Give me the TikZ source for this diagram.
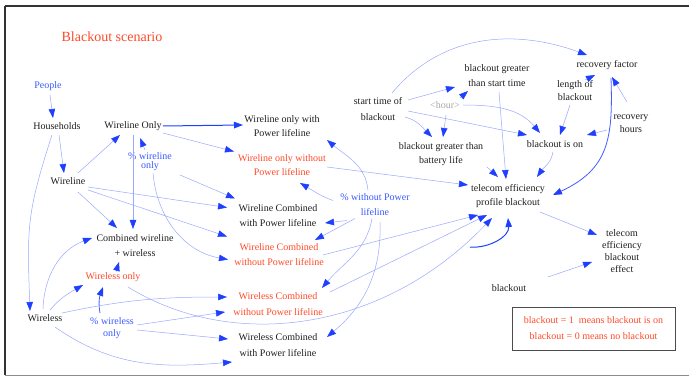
\documentclass[tikz,border=0pt]{standalone}
\usepackage{fontspec}
\setmainfont{Liberation Serif}
\usetikzlibrary{arrows.meta}
\definecolor{lnblue}{HTML}{9AA8FF}
\definecolor{tipblue}{HTML}{1F3FFF}
\definecolor{txtblue}{HTML}{3A5AFF}
\definecolor{txtred}{HTML}{FF4A2A}
\definecolor{txtgray}{HTML}{A8A8A8}
\tikzset{
  lbl/.style={align=center, inner sep=1.5pt, font=\fontsize{10}{14}\selectfont, text=black!88},
  redlbl/.style={lbl, text=txtred},
  bluelbl/.style={lbl, text=txtblue},
  lk/.style={draw=lnblue, line width=0.5pt, -{Triangle[length=9pt,width=6.5pt,color=tipblue]}},
  thk/.style={draw=tipblue, line width=1pt},
  semithk/.style={draw=tipblue!70!lnblue, line width=0.8pt},
}
\begin{document}
\begin{tikzpicture}[x=1pt,y=-1pt]
\useasboundingbox (0,0) rectangle (689,377);
\fill[white] (0,0) rectangle (689,377);
% frame
\draw[black!80, line width=1.5pt] (5,6) -- (689,6);
\draw[black!80, line width=1.5pt] (5,6) -- (5,375);
\draw[black!45, line width=1pt] (5,375) -- (689,375);

% nodes
\node[lbl, font=\fontsize{14}{16}\selectfont, text=txtred] (title) at (112,37) {Blackout scenario};
\node[bluelbl] (people) at (48,86) {People};
\node[lbl] (households) at (57,126) {Households};
\node[lbl] (wlonly) at (133,126) {Wireline Only};
\node[bluelbl, font=\fontsize{10}{9}\selectfont] (pwo) at (150,162) {\% wireline\\only};
\node[lbl] (wireline) at (68,181) {Wireline};
\node[lbl, font=\fontsize{10}{15}\selectfont] (combined) at (135,246) {Combined wireline\\+ wireless};
\node[redlbl] (wlsonly) at (113,277) {Wireless only};
\node[lbl] (wireless) at (45,318) {Wireless};
\node[bluelbl, font=\fontsize{10}{12}\selectfont] (pwlso) at (112,328) {\% wireless\\only};
\node[lbl] (wlowith) at (282,126) {Wireline only with\\Power lifeline};
\node[redlbl] (wlowithout) at (282,165.5) {Wireline only without\\Power lifeline};
\node[lbl, font=\fontsize{10}{15}\selectfont] (wcwith) at (278,215.5) {Wireline Combined\\with Power lifeline};
\node[redlbl, font=\fontsize{10}{15}\selectfont] (wcwithout) at (279,254.5) {Wireline Combined\\without Power lifeline};
\node[bluelbl, font=\fontsize{10}{15}\selectfont] (pwlp) at (375,204.5) {\% without Power\\lifeline};
\node[redlbl, font=\fontsize{10}{16}\selectfont] (wscwithout) at (278,304) {Wireless Combined\\without Power lifeline};
\node[lbl, font=\fontsize{10}{16}\selectfont] (wscwith) at (278,345) {Wireless Combined\\with Power lifeline};
\node[lbl, font=\fontsize{10}{16}\selectfont] (start) at (378,109) {start time of\\blackout};
\node[lbl, font=\fontsize{10}{15}\selectfont] (bgst) at (497,75.5) {blackout greater\\than start time};
\node[lbl, text=txtgray] (hour) at (445,105) {\textless{}hour\textgreater{}};
\node[lbl] (bgbl) at (441,154) {blackout greater than\\battery life};
\node[lbl] (rf) at (607,65) {recovery factor};
\node[lbl, font=\fontsize{10}{13}\selectfont] (lob) at (575,90.5) {length of\\blackout};
\node[lbl, font=\fontsize{10}{13}\selectfont] (rh) at (631,123.5) {recovery\\hours};
\node[lbl] (bion) at (555,144) {blackout is on};
\node[lbl] (tepb) at (508,196) {telecom efficiency\\profile blackout};
\node[lbl, font=\fontsize{10}{12}\selectfont] (tebe) at (622,251) {telecom\\efficiency\\blackout\\effect};
\node[lbl] (blackout) at (509,288) {blackout};
\node[draw=black!70, line width=1pt, inner sep=0pt, minimum width=163pt, minimum height=43pt,
      align=center, text=txtred, font=\fontsize{10}{16}\selectfont] (note) at (593.5,328.5)
      {blackout = 1\ \ means blackout is on\\blackout = 0 means no blackout};
\coordinate (loopstart) at (470,247);

% connectors
\draw[lk] ([shift={(2,9)}]people.center) -- ([shift={(-4,-8)}]households.center);
\draw[lk] ([shift={(2,9)}]households.center) -- ([shift={(-4,-8)}]wireline.center);
\draw[lk] ([shift={(-5,9)}]households.center) to[out=252,in=92,looseness=1.2] ([shift={(-15,-7)}]wireless.center);
\draw[lk] ([shift={(-2,-9)}]wireless.center) to[out=88,in=200] ([shift={(-43,-8)}]combined.center);
\draw[lk] ([shift={(10,-8)}]wireline.center) -- ([shift={(-13,9)}]wlonly.center);
\draw[lk, thk] ([shift={(30,0)}]wlonly.center) -- ([shift={(-39,-1)}]wlowith.center);
\draw[lk] ([shift={(30,7)}]wlonly.center) -- ([shift={(-48,-14)}]wlowithout.center);
\draw[lk] ([shift={(0,9)}]wlonly.center) -- ([shift={(-2,-17)}]combined.center);
\draw[lk] ([shift={(-5,-12)}]pwo.center) -- ([shift={(7,12)}]wlonly.center);
\draw[lk] ([shift={(3,11)}]pwo.center) to[out=275,in=170] ([shift={(-51,5)}]wcwithout.center);
\draw[lk] ([shift={(30,13)}]pwo.center) -- ([shift={(-43,-17)}]wcwith.center);
\draw[lk] ([shift={(20,6)}]wireline.center) -- ([shift={(-51,-8)}]wcwith.center);
\draw[lk] ([shift={(20,9)}]wireline.center) -- ([shift={(-52,-18)}]wcwithout.center);
\draw[lk] ([shift={(10,11)}]wireline.center) -- ([shift={(-18,-18)}]combined.center);
\draw[lk] ([shift={(3,-5)}]wlsonly.center) -- ([shift={(-16,16)}]combined.center);
\draw[lk] ([shift={(5,-8)}]wireless.center) to[out=50,in=210] ([shift={(-30,8)}]wlsonly.center);
\draw[lk, semithk] ([shift={(-12,-15)}]pwlso.center) to[out=100,in=250] ([shift={(-10,10)}]wlsonly.center);
\draw[lk] ([shift={(17,-5)}]wireless.center) to[out=12,in=180] ([shift={(-51,-7)}]wscwithout.center);
\draw[lk] ([shift={(25,-3)}]pwlso.center) -- ([shift={(-53,8)}]wscwithout.center);
\draw[lk] ([shift={(25,2)}]pwlso.center) -- ([shift={(-50,-6)}]wscwith.center);
\draw[lk] ([shift={(10,9)}]wireless.center) to[out=-35,in=185] ([shift={(-46,17)}]wscwith.center);
\draw[lk] ([shift={(15,10)}]wlsonly.center) .. controls (230,350) and (380,335) .. ([shift={(-16,22)}]tepb.center);
\draw[lk] ([shift={(-7,-14)}]pwlp.center) to[out=95,in=-40] ([shift={(45,14)}]wlowith.center);
\draw[lk] ([shift={(-42,-4)}]pwlp.center) to[out=160,in=-30] ([shift={(18,17.5)}]wlowithout.center);
\draw[lk] ([shift={(-28,16)}]pwlp.center) -- ([shift={(47,7.5)}]wcwith.center);
\draw[lk] ([shift={(-20,14)}]pwlp.center) -- ([shift={(36,-14.5)}]wcwithout.center);
\draw[lk] ([shift={(-3,14)}]pwlp.center) to[out=-100,in=50] ([shift={(44,-16)}]wscwithout.center);
\draw[lk] ([shift={(5,17.5)}]pwlp.center) to[out=-88,in=40] ([shift={(49,-8)}]wscwith.center);
\draw[lk] ([shift={(14,-16)}]start.center) to[out=50,in=160] ([shift={(-20,-10)}]rf.center);
\draw[lk] ([shift={(30,-9)}]start.center) -- ([shift={(-42,11.5)}]bgst.center);
\draw[lk] ([shift={(15,-7)}]hour.center) -- ([shift={(-29,15.5)}]bgst.center);
\draw[lk] ([shift={(27,8)}]start.center) to[out=-15,in=135] ([shift={(-9,-17)}]bgbl.center);
\draw[lk] ([shift={(1,10)}]hour.center) -- ([shift={(2,-17)}]bgbl.center);
\draw[lk] ([shift={(30,2)}]start.center) -- ([shift={(-28,-9)}]bion.center);
\draw[lk] ([shift={(18,0)}]hour.center) to[out=0,in=130] ([shift={(-15,-11)}]bion.center);
\draw[lk] ([shift={(2,16.5)}]bgst.center) -- ([shift={(-2,-17)}]tepb.center);
\draw[lk] ([shift={(10,-10.5)}]lob.center) -- ([shift={(-12,10)}]rf.center);
\draw[lk] ([shift={(-5,14.5)}]lob.center) -- ([shift={(5,-9)}]bion.center);
\draw[lk] ([shift={(-4,-21.5)}]rh.center) -- ([shift={(5,12)}]rf.center);
\draw[lk] ([shift={(-24,6.5)}]rh.center) -- ([shift={(32,-9)}]bion.center);
\draw[lk, semithk] ([shift={(4,13)}]rf.center) to[out=-88,in=25,looseness=1.2] ([shift={(45,-1)}]tepb.center);
\draw[lk] ([shift={(-2,8)}]bion.center) to[out=-100,in=55] ([shift={(29,-19)}]tepb.center);
\draw[lk] ([shift={(46,13)}]bgbl.center) -- ([shift={(-10,-19)}]tepb.center);
\draw[lk] ([shift={(45,1.5)}]wlowithout.center) -- ([shift={(-40,-11)}]tepb.center);
\draw[lk] ([shift={(44,0.5)}]wcwithout.center) -- ([shift={(-30,19)}]tepb.center);
\draw[lk] ([shift={(52,-12)}]wscwithout.center) -- ([shift={(-21,19)}]tepb.center);
\draw[lk, thk] (loopstart) to[out=-5,in=-85] ([shift={(0,22)}]tepb.center);
\draw[lk] ([shift={(32,16)}]tepb.center) -- ([shift={(-25,-16)}]tebe.center);
\draw[lk] ([shift={(39,-11)}]blackout.center) -- ([shift={(-30,11)}]tebe.center);
\end{tikzpicture}
\end{document}
